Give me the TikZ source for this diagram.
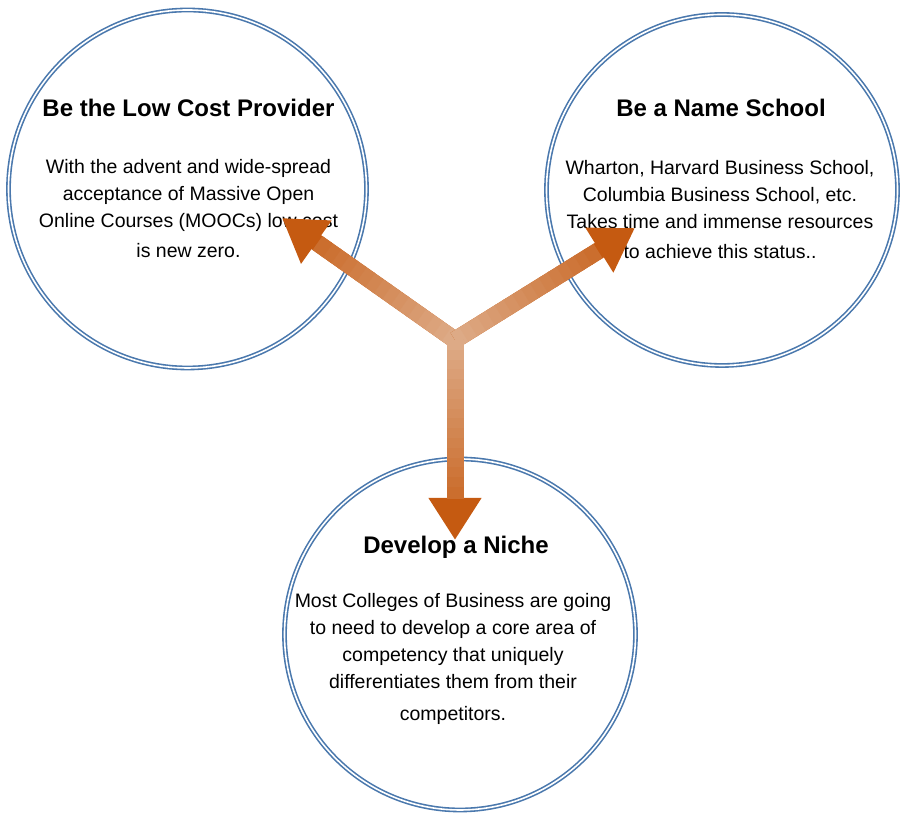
\documentclass[tikz,border=0pt]{standalone}
\usepackage{fontspec}
\setmainfont{Liberation Sans}
\usetikzlibrary{arrows.meta,calc}
\definecolor{azul}{HTML}{4A78AD}
\definecolor{naranja}{HTML}{C55A11}
\definecolor{claro}{HTML}{DDAA86}

\begin{document}
\begin{tikzpicture}[x=1pt,y=1pt,
    circulo/.style={circle, draw=azul, double=white, line width=1.6pt,
      double distance=1.6pt, minimum size=#1, inner sep=0pt},
    titulo/.style={anchor=base, font=\fontsize{24}{28}\selectfont\bfseries},
    texto/.style={anchor=base, align=center, font=\fontsize{19.5}{27}\selectfont},
    flecha/.style={line width=17pt}]
    \useasboundingbox (0,0) rectangle (903,818);
    % Circulos
    \node[circulo=358pt] (costo) at (187.5,629) {};
    \node[circulo=351pt] (nombre) at (722,628) {};
    \node[circulo=351pt] (nicho) at (460,183.5) {};
    % Textos
    \node[titulo] (costoT) at ([xshift=1pt,yshift=72pt]costo.center) {Be the Low Cost Provider};
    \node[texto] (costoX) at ([xshift=1pt,yshift=-69pt]costo.center)
      {With the advent and wide-spread\\ acceptance of Massive Open\\
       Online Courses (MOOCs) low cost\\[3pt] is new zero.};
    \node[titulo] (nombreT) at ([xshift=-1pt,yshift=73pt]nombre.center) {Be a Name School};
    \node[texto] (nombreX) at ([xshift=-2pt,yshift=-69pt]nombre.center)
      {Wharton, Harvard Business School,\\ Columbia Business School, etc.\\
       Takes time and immense resources\\[3pt] to achieve this status..};
    \node[titulo] (nichoT) at ([xshift=-4pt,yshift=80.5pt]nicho.center) {Develop a Niche};
    \node[texto] (nichoX) at ([xshift=-7pt,yshift=-86pt]nicho.center)
      {Most Colleges of Business are going\\ to need to develop a core area of\\
       competency that uniquely\\ differentiates them from their\\[5pt] competitors.};
    % Flechas
    \coordinate (centro) at (455,478);
    \coordinate (pcosto) at (282,600);
    \coordinate (pnombre) at (635,590);
    \coordinate (pnicho) at (455,278);
    \fill[claro] (centro) circle (8.5pt);
    \foreach \p in {costo,nombre,nicho} {
      \draw[flecha, naranja, -{Triangle[width=50pt,length=42pt]}] (centro) -- (p\p);
      \foreach \i in {0,...,15} {
        \pgfmathtruncatemacro\m{100-\i*5}
        \draw[flecha, claro!\m!naranja] ($(centro)!\i*0.049!(p\p)$) -- ($(centro)!\i*0.049+0.06!(p\p)$);
      }
    }
\end{tikzpicture}
\end{document}
